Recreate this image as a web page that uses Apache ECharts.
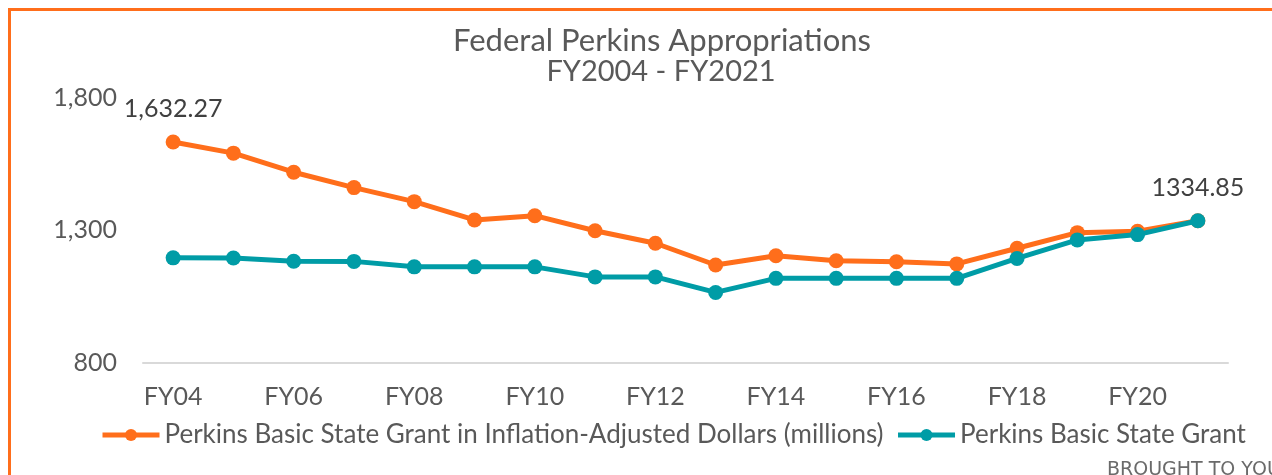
<!DOCTYPE html>
<html>
<head>
<meta charset="utf-8">
<script src="https://cdn.jsdelivr.net/npm/echarts@6/dist/echarts.min.js"></script>
<style>
html,body{margin:0;padding:0;background:#fff;}
#c{width:1272px;height:475px;}
</style>
</head>
<body>
<div id="c"></div>
<script>
var categories = ['FY04','FY05','FY06','FY07','FY08','FY09','FY10','FY11','FY12','FY13','FY14','FY15','FY16','FY17','FY18','FY19','FY20','FY21'];
var adjustedValues = [1632.27, 1590, 1518, 1460, 1407, 1338, 1354, 1297, 1250, 1168, 1203, 1184, 1180, 1172, 1231, 1290, 1295, 1334.85];
var grantValues = [1195.0, 1194.3, 1182.1, 1181.6, 1160.9, 1160.9, 1160.9, 1123.0, 1123.0, 1064.4, 1117.6, 1117.6, 1117.6, 1117.6, 1192.6, 1262.6, 1282.6, 1334.85];
var yTicks = [800, 1300, 1800];
var titleLines = ['Federal Perkins Appropriations', 'FY2004 - FY2021'];
var seriesNames = ['Perkins Basic State Grant in Inflation-Adjusted Dollars (millions)', 'Perkins Basic State Grant'];

var FONT = 'Lato';
var TXT = '#595959';
var ORANGE = '#ff6e1b';
var TEAL = '#009ca6';

function withLabel(values, idx, text) {
  return values.map(function (v, i) {
    if (i !== idx) return v;
    return {
      value: v,
      label: {
        show: true, position: 'top', distance: 13,
        formatter: text, fontFamily: FONT, fontSize: 25, color: '#404040'
      }
    };
  });
}

var chart = echarts.init(document.getElementById('c'));
chart.setOption({
  animation: false,
  backgroundColor: '#fff',
  grid: { left: 143, right: 44, top: 97.5, bottom: 112.5, containLabel: false },
  xAxis: {
    type: 'category',
    data: categories,
    boundaryGap: true,
    axisLine: { show: true, lineStyle: { color: '#d9d9d9', width: 2 } },
    axisTick: { show: false },
    axisLabel: { interval: 1, margin: 22, fontFamily: FONT, fontSize: 25, color: TXT }
  },
  yAxis: {
    type: 'value',
    min: yTicks[0], max: yTicks[yTicks.length - 1], interval: yTicks[1] - yTicks[0],
    splitLine: { show: false },
    axisLine: { show: false },
    axisTick: { show: false },
    axisLabel: {
      margin: 26, fontFamily: FONT, fontSize: 25, color: TXT,
      formatter: function (v) { return v.toLocaleString('en-US'); }
    }
  },
  legend: {
    left: 100, top: 422, padding: 0,
    itemWidth: 57, itemHeight: 15, itemGap: 12,
    lineStyle: { width: 5 },
    textStyle: { fontFamily: FONT, fontSize: 26, color: TXT },
    data: seriesNames
  },
  series: [
    {
      name: seriesNames[0], type: 'line',
      data: withLabel(adjustedValues, 0, '1,632.27'),
      symbol: 'circle', symbolSize: 15,
      lineStyle: { color: ORANGE, width: 5 },
      itemStyle: { color: ORANGE },
      z: 2
    },
    {
      name: seriesNames[1], type: 'line',
      data: withLabel(grantValues, grantValues.length - 1, '1334.85'),
      symbol: 'circle', symbolSize: 15,
      lineStyle: { color: TEAL, width: 5 },
      itemStyle: { color: TEAL },
      z: 3
    }
  ],
  graphic: [
    { type: 'rect', shape: { x: 9.5, y: 9.5, width: 1300, height: 500 },
      style: { fill: 'none', stroke: ORANGE, lineWidth: 3 }, silent: true },
    { type: 'text', x: 662, y: 41,
      style: { text: titleLines[0], fontFamily: FONT, fontSize: 31, fill: TXT, textAlign: 'center', textVerticalAlign: 'middle' } },
    { type: 'text', x: 661, y: 72,
      style: { text: titleLines[1], fontFamily: FONT, fontSize: 29, fill: TXT, textAlign: 'center', textVerticalAlign: 'middle' } },
    { type: 'text', x: 1107, y: 470,
      style: { text: 'BROUGHT TO YOU BY', fontFamily: 'DejaVu Sans', fontSize: 19, fill: '#6a6a6a', textVerticalAlign: 'middle' } }
  ]
});
</script>
</body>
</html>
